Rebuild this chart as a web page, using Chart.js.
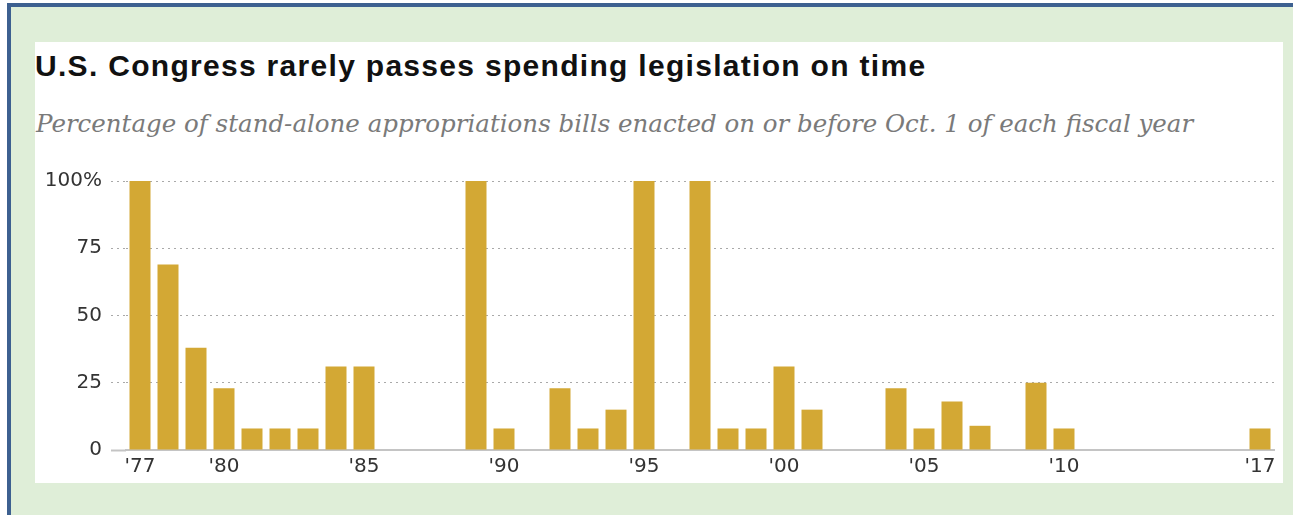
<!DOCTYPE html>
<html>
<head>
<meta charset="utf-8">
<script src="https://cdn.jsdelivr.net/npm/chart.js@4.4.0/dist/chart.umd.min.js"></script>
<style>
  html, body { margin: 0; padding: 0; background: #fff; }
  body { width: 1293px; height: 515px; position: relative; overflow: hidden; }
  #frame {
    position: absolute; left: 7px; top: 3px; width: 1300px; height: 530px;
    border: 4px solid #3d6090; background: #dfeed8;
  }
  #panel {
    position: absolute; left: 35px; top: 42px; width: 1248px; height: 441px;
    background: #fff;
  }
  #title {
    position: absolute; left: 35px; top: 51px; margin: 0;
    font: bold 30px "Liberation Sans", Arial, sans-serif; color: #111;
    letter-spacing: 1.3px; line-height: 30px; white-space: nowrap;
  }
  #subtitle {
    position: absolute; left: 36px; top: 109px; margin: 0;
    font: italic 24.5px "DejaVu Serif", serif; color: #7a7a7a;
    line-height: 30px; white-space: nowrap;
  }
  #wrap { position: absolute; left: 35px; top: 150px; width: 1248px; height: 333px; }
</style>
</head>
<body>
<div id="frame"></div>
<div id="panel"></div>
<h1 id="title">U.S. Congress rarely passes spending legislation on time</h1>
<p id="subtitle">Percentage of stand-alone appropriations bills enacted on or before Oct. 1 of each fiscal year</p>
<div id="wrap"><canvas id="chart"></canvas></div>
<script>
// Fiscal years shown on the axis
const years = [1977, 1978, 1979, 1980, 1981, 1982, 1983, 1984, 1985, 1986,
               1987, 1988, 1989, 1990, 1991, 1992, 1993, 1994, 1995, 1996,
               1997, 1998, 1999, 2000, 2001, 2002, 2003, 2004, 2005, 2006,
               2007, 2008, 2009, 2010, 2011, 2012, 2013, 2014, 2015, 2016, 2017];

// % of bills enacted on time
const onTimePct = [100, 69, 38, 23, 8, 8, 8, 31, 31, 0,
                   0, 0, 100, 8, 0, 23, 8, 15, 100, 0,
                   100, 8, 8, 31, 15, 0, 0, 23, 8, 18,
                   9, 0, 25, 8, 0, 0, 0, 0, 0, 0, 8];

// Years that get a label under the axis
const labeledYears = [1977, 1980, 1985, 1990, 1995, 2000, 2005, 2010, 2017];

// Value axis ticks
const yTicks = [0, 25, 50, 75, 100];

const dots = [2, 4];
const gridGray = '#a9a9a9';
const axisGray = '#c4c4c4';
const tickFont = { family: '"DejaVu Sans", sans-serif', size: 20 };

function yearLabel(y) {
    return "'" + String(y).slice(2);
}

function initChart() {
    const ctx = document.getElementById('chart').getContext('2d');

    new Chart(ctx, {
        type: 'bar',
        data: {
            labels: years,
            datasets: [{
                label: 'Enacted on time',
                data: onTimePct,
                backgroundColor: '#d3a834',
                borderWidth: 0,
                categoryPercentage: 1,
                barPercentage: 0.75
            }]
        },
        options: {
            responsive: true,
            maintainAspectRatio: false,
            animation: false,
            layout: { padding: { top: 31, right: 9, bottom: 0, left: 0 } },
            plugins: {
                legend: { display: false },
                tooltip: { enabled: false }
            },
            scales: {
                x: {
                    grid: { display: false, drawTicks: false },
                    border: { display: true, color: axisGray, width: 2 },
                    afterFit: (scale) => { scale.height = 33; },
                    ticks: {
                        autoSkip: false,
                        maxRotation: 0,
                        padding: 5,
                        color: '#333',
                        font: tickFont,
                        callback: function (value) {
                            const y = years[value];
                            return labeledYears.includes(y) ? yearLabel(y) : '';
                        }
                    }
                },
                y: {
                    min: yTicks[0],
                    max: yTicks[yTicks.length - 1],
                    afterFit: (scale) => { scale.width = 91; },
                    afterBuildTicks: (scale) => {
                        scale.ticks = yTicks.map(v => ({ value: v }));
                    },
                    border: { display: false, dash: dots },
                    grid: {
                        color: gridGray,
                        lineWidth: 1,
                        tickLength: 15,
                        tickColor: (c) => c.tick && c.tick.value === 0 ? axisGray : gridGray,
                        tickWidth: (c) => c.tick && c.tick.value === 0 ? 2 : 1,
                        tickBorderDash: (c) => c.tick && c.tick.value === 0 ? [] : dots
                    },
                    ticks: {
                        padding: 9,
                        color: '#333',
                        font: tickFont,
                        callback: (v) => v === 100 ? '100%' : v
                    }
                }
            }
        }
    });
}

window.onload = function () {
    initChart();
};
</script>
</body>
</html>
